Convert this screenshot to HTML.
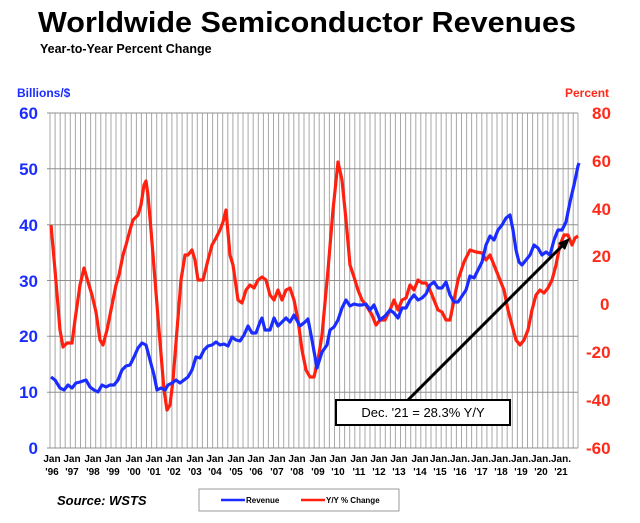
<!DOCTYPE html>
<html><head><meta charset="utf-8"><style>
body{margin:0;background:#fff;}
svg{display:block;font-family:"Liberation Sans",Arial,sans-serif;}
</style></head><body>
<svg width="640" height="523" viewBox="0 0 640 523" xmlns="http://www.w3.org/2000/svg">
<text x="38" y="32" font-size="29" font-weight="bold" fill="#000" textLength="538" lengthAdjust="spacingAndGlyphs">Worldwide Semiconductor Revenues</text>
<text x="40" y="53" font-size="12.5" font-weight="bold" fill="#000">Year-to-Year Percent Change</text>
<text x="17" y="97" font-size="12" font-weight="bold" fill="#1a2cff">Billions/$</text>
<text x="565" y="97" font-size="12" font-weight="bold" fill="#ff2a1a">Percent</text>
<g stroke="#a8a8a8" stroke-width="1" fill="none">
<path d="M50 113V448M55.1 113V448M60.2 113V448M65.2 113V448M70.3 113V448M75.4 113V448M80.5 113V448M85.6 113V448M90.6 113V448M95.7 113V448M100.8 113V448M105.9 113V448M111 113V448M116 113V448M121.1 113V448M126.2 113V448M131.3 113V448M136.4 113V448M141.4 113V448M146.5 113V448M151.6 113V448M156.7 113V448M161.8 113V448M166.8 113V448M171.9 113V448M177 113V448M182.1 113V448M187.2 113V448M192.2 113V448M197.3 113V448M202.4 113V448M207.5 113V448M212.6 113V448M217.6 113V448M222.7 113V448M227.8 113V448M232.9 113V448M238 113V448M243 113V448M248.1 113V448M253.2 113V448M258.3 113V448M263.4 113V448M268.4 113V448M273.5 113V448M278.6 113V448M283.7 113V448M288.8 113V448M293.8 113V448M298.9 113V448M304 113V448M309.1 113V448M314.2 113V448M319.2 113V448M324.3 113V448M329.4 113V448M334.5 113V448M339.6 113V448M344.6 113V448M349.7 113V448M354.8 113V448M359.9 113V448M365 113V448M370 113V448M375.1 113V448M380.2 113V448M385.3 113V448M390.4 113V448M395.4 113V448M400.5 113V448M405.6 113V448M410.7 113V448M415.8 113V448M420.8 113V448M425.9 113V448M431 113V448M436.1 113V448M441.2 113V448M446.2 113V448M451.3 113V448M456.4 113V448M461.5 113V448M466.6 113V448M471.6 113V448M476.7 113V448M481.8 113V448M486.9 113V448M492 113V448M497 113V448M502.1 113V448M507.2 113V448M512.3 113V448M517.4 113V448M522.4 113V448M527.5 113V448M532.6 113V448M537.7 113V448M542.8 113V448M547.8 113V448M552.9 113V448M558 113V448M563.1 113V448M568.2 113V448M573.2 113V448M578 113V448"/>
<path d="M47 113H578M47 168.8H578M47 224.7H578M47 280.5H578M47 336.3H578M47 392.2H578M47 448H578" stroke="#909090"/>
</g>
<g font-size="17" font-weight="bold" fill="#1a2cff" text-anchor="end">
<text x="38" y="119">60</text><text x="38" y="175">50</text><text x="38" y="231">40</text><text x="38" y="287">30</text><text x="38" y="342">20</text><text x="38" y="398">10</text><text x="38" y="454">0</text>
</g>
<g font-size="17" font-weight="bold" fill="#ff2a1a">
<text x="592" y="119">80</text><text x="592" y="167">60</text><text x="592" y="215">40</text><text x="592" y="262">20</text><text x="600" y="310">0</text><text x="586" y="358">-20</text><text x="586" y="406">-40</text><text x="586" y="454">-60</text>
</g>
<polyline fill="none" stroke="#ff2010" stroke-width="3.2" stroke-linejoin="round" points="51,225 55,270 60,330 63,347 67,343 72,343 75,320 80,285 84,268 88,282 92,295 96,312 100,340 103,345 107,330 112,305 116,285 119,275 123,255 126,245 130,230 133,220 138,215 141,205 144,185 146,181 148,195 151,230 155,280 159,330 164,390 167,410 170,405 173,380 177,330 181,280 185,255 188,255 192,250 195,260 198,280 203,280 208,260 212,245 216,238 220,230 223,222 226,210 230,255 233,265 238,300 242,303 246,290 250,285 254,288 258,280 262,277 266,280 270,295 274,300 278,290 282,300 286,290 290,288 294,300 298,320 302,350 306,370 310,377 314,377 318,360 322,335 328,270 333,210 338,162 342,180 346,220 350,265 354,277 358,290 362,300 366,305 372,315 376,325 380,320 385,320 390,310 394,300 398,310 402,300 406,298 410,285 414,290 418,280 422,283 426,283 430,290 434,300 438,310 442,312 446,320 450,320 454,300 458,280 464,262 470,250 476,252 482,253 486,260 490,255 496,270 500,280 504,290 508,310 512,325 516,340 520,345 524,340 528,330 532,310 536,295 540,290 544,293 548,288 552,280 556,265 560,245 564,235 568,235 572,245 575,238 578,236"/>
<polyline fill="none" stroke="#1a2cff" stroke-width="3.2" stroke-linejoin="round" points="51,377 55,380 60,388 64,390 68,385 72,388 76,383 80,382 86,380 90,387 94,390 98,392 102,385 106,387 110,385 114,385 118,380 122,370 126,366 130,365 134,357 138,348 142,343 146,345 150,360 154,375 157,390 161,388 165,390 168,385 172,383 176,380 180,383 184,380 188,377 192,370 196,357 200,358 204,350 208,346 212,345 216,342 220,345 224,344 228,346 232,337 236,340 240,341 244,335 248,326 252,333 256,333 260,322 262,318 265,330 270,330 274,318 278,326 282,322 286,318 290,322 294,315 300,326 305,322 308,319 312,340 317,368 322,352 327,345 330,330 334,327 338,320 342,308 346,300 350,306 354,304 358,305 362,305 366,304 370,310 374,305 378,315 380,320 385,316 390,310 394,313 398,318 402,308 406,308 410,300 414,295 418,300 422,298 426,294 430,285 434,282 438,288 442,288 446,282 450,295 454,302 458,302 462,296 466,290 470,276 474,278 478,270 482,262 486,245 490,236 494,240 498,230 502,225 506,218 510,215 513,230 516,250 519,262 522,265 526,260 530,255 534,245 538,248 542,255 546,252 550,255 554,240 558,230 562,230 566,222 570,202 574,185 578,166 579,163"/>
<line x1="408" y1="400" x2="564" y2="244" stroke="#000" stroke-width="3"/>
<polygon points="570,238 558,243 565,250" fill="#000"/>
<rect x="336" y="400" width="174" height="25" fill="#fff" stroke="#000" stroke-width="2"/>
<text x="423" y="417" font-size="13" text-anchor="middle" fill="#000">Dec. '21 = 28.3% Y/Y</text>
<g font-size="10" font-weight="bold" fill="#000" text-anchor="middle">
<text x="52" y="462">Jan</text><text x="52" y="475">'96</text>
<text x="72" y="462">Jan</text><text x="72" y="475">'97</text>
<text x="93" y="462">Jan</text><text x="93" y="475">'98</text>
<text x="113" y="462">Jan</text><text x="113" y="475">'99</text>
<text x="134" y="462">Jan</text><text x="134" y="475">'00</text>
<text x="154" y="462">Jan</text><text x="154" y="475">'01</text>
<text x="174" y="462">Jan</text><text x="174" y="475">'02</text>
<text x="195" y="462">Jan</text><text x="195" y="475">'03</text>
<text x="215" y="462">Jan</text><text x="215" y="475">'04</text>
<text x="236" y="462">Jan</text><text x="236" y="475">'05</text>
<text x="256" y="462">Jan</text><text x="256" y="475">'06</text>
<text x="277" y="462">Jan</text><text x="277" y="475">'07</text>
<text x="297" y="462">Jan</text><text x="297" y="475">'08</text>
<text x="318" y="462">Jan</text><text x="318" y="475">'09</text>
<text x="338" y="462">Jan</text><text x="338" y="475">'10</text>
<text x="359" y="462">Jan</text><text x="359" y="475">'11</text>
<text x="379" y="462">Jan</text><text x="379" y="475">'12</text>
<text x="399" y="462">Jan</text><text x="399" y="475">'13</text>
<text x="420" y="462">Jan</text><text x="420" y="475">'14</text>
<text x="440" y="462">Jan.</text><text x="440" y="475">'15</text>
<text x="460" y="462">Jan.</text><text x="460" y="475">'16</text>
<text x="481" y="462">Jan.</text><text x="481" y="475">'17</text>
<text x="501" y="462">Jan.</text><text x="501" y="475">'18</text>
<text x="521" y="462">Jan.</text><text x="521" y="475">'19</text>
<text x="541" y="462">Jan.</text><text x="541" y="475">'20</text>
<text x="561" y="462">Jan.</text><text x="561" y="475">'21</text>
</g>
<text x="57" y="505" font-size="13" font-weight="bold" font-style="italic" fill="#000">Source: WSTS</text>
<rect x="199" y="489" width="200" height="22" fill="#fff" stroke="#999" stroke-width="1"/>
<line x1="221" y1="500" x2="245" y2="500" stroke="#1a2cff" stroke-width="2.5"/>
<text x="246" y="503" font-size="8" font-weight="bold" fill="#000">Revenue</text>
<line x1="301" y1="500" x2="325" y2="500" stroke="#ff2010" stroke-width="2.5"/>
<text x="326" y="503" font-size="8" font-weight="bold" fill="#000">Y/Y % Change</text>
</svg>
</body></html>
